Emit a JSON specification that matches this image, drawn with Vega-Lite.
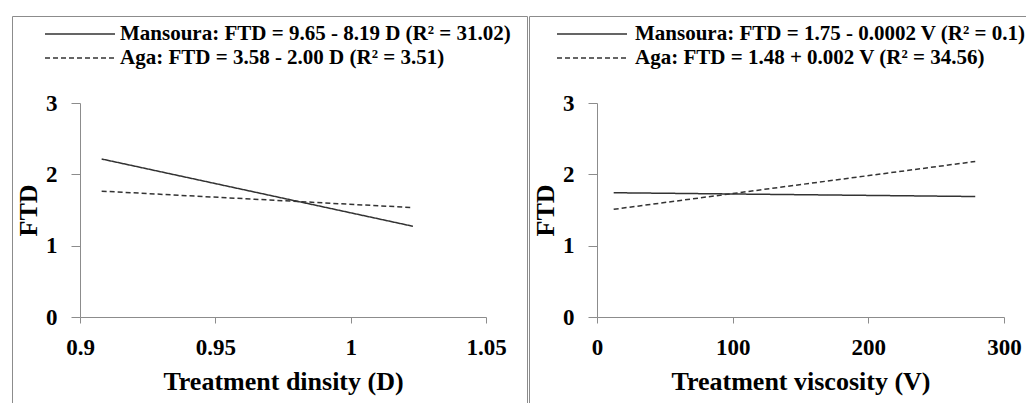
{
  "$schema": "https://vega.github.io/schema/vega-lite/v6.json",
  "padding": {"left": 11, "top": 15, "right": 0, "bottom": 0},
  "background": "white",
  "spacing": 0,
  "config": {
    "view": {"stroke": "#8c8c8c", "strokeWidth": 1},
    "axis": {
      "grid": false,
      "domainColor": "#8c8c8c",
      "tickColor": "#8c8c8c",
      "labelFont": "Liberation Serif",
      "labelFontWeight": "bold",
      "labelColor": "black",
      "titleFont": "Liberation Serif",
      "titleFontWeight": "bold",
      "titleColor": "black"
    },
    "legend": {
      "orient": "none",
      "symbolType": "stroke",
      "symbolSize": 4900,
      "symbolStrokeWidth": 1.5,
      "symbolStrokeColor": "#333333",
      "clipHeight": 18,
      "rowPadding": 3,
      "symbolOffset": 0,
      "padding": 0,
      "direction": "vertical",
      "labelFont": "Liberation Serif",
      "labelFontWeight": "bold",
      "labelFontSize": 21,
      "labelColor": "black"
    }
  },
  "resolve": {
    "scale": {"strokeDash": "independent", "x": "independent", "y": "independent"},
    "legend": {"strokeDash": "independent"}
  },
  "hconcat": [
    {
      "width": 515,
      "height": 388,
      "data": {"values": [
        {"series": "Mansoura: FTD = 9.65 - 8.19 D (R² = 31.02)", "D": 0.908, "FTD": 2.215},
        {"series": "Mansoura: FTD = 9.65 - 8.19 D (R² = 31.02)", "D": 1.023, "FTD": 1.272},
        {"series": "Aga: FTD = 3.58 - 2.00 D (R² = 3.51)", "D": 0.908, "FTD": 1.764},
        {"series": "Aga: FTD = 3.58 - 2.00 D (R² = 3.51)", "D": 1.023, "FTD": 1.534}
      ]},
      "mark": {"type": "line", "color": "#333333", "strokeWidth": 1.5},
      "encoding": {
        "x": {
          "field": "D", "type": "quantitative",
          "scale": {"domain": [0.9, 1.05], "range": [68, 474], "nice": false, "zero": false},
          "axis": {"title": "Treatment dinsity (D)", "values": [0.9, 0.95, 1, 1.05], "labelExpr": "'' + datum.value", "offset": -87, "tickSize": 6, "labelPadding": 13, "titlePadding": 9, "labelFlush": false, "labelFontSize": 23, "titleFontSize": 26}
        },
        "y": {
          "field": "FTD", "type": "quantitative",
          "scale": {"domain": [0, 3], "range": [301, 87], "nice": false},
          "axis": {"title": "FTD", "values": [0, 1, 2, 3], "offset": -68, "tickSize": 9, "labelPadding": 14, "titlePadding": 4, "minExtent": 0, "labelFontSize": 23, "titleFontSize": 26}
        },
        "strokeDash": {
          "field": "series", "type": "nominal",
          "scale": {
            "domain": ["Mansoura: FTD = 9.65 - 8.19 D (R² = 31.02)", "Aga: FTD = 3.58 - 2.00 D (R² = 3.51)"],
            "range": [[1, 0], [5, 3]]
          },
          "legend": {"title": null, "legendX": 32, "legendY": 9, "labelOffset": 4, "labelLimit": 0}
        }
      }
    },
    {
      "width": 500,
      "height": 388,
      "data": {"values": [
        {"series": "Mansoura: FTD = 1.75 - 0.0002 V (R² = 0.1)", "V": 12.3, "FTD": 1.742},
        {"series": "Mansoura: FTD = 1.75 - 0.0002 V (R² = 0.1)", "V": 278.8, "FTD": 1.689},
        {"series": "Aga: FTD = 1.48 + 0.002 V (R² = 34.56)", "V": 12.3, "FTD": 1.51},
        {"series": "Aga: FTD = 1.48 + 0.002 V (R² = 34.56)", "V": 278.8, "FTD": 2.18}
      ]},
      "mark": {"type": "line", "color": "#333333", "strokeWidth": 1.5},
      "encoding": {
        "x": {
          "field": "V", "type": "quantitative",
          "scale": {"domain": [0, 300], "range": [68, 475], "nice": false, "zero": false},
          "axis": {"title": "Treatment viscosity (V)", "values": [0, 100, 200, 300], "offset": -87, "tickSize": 6, "labelPadding": 13, "titlePadding": 9, "labelFlush": false, "labelFontSize": 23, "titleFontSize": 26}
        },
        "y": {
          "field": "FTD", "type": "quantitative",
          "scale": {"domain": [0, 3], "range": [301, 87], "nice": false},
          "axis": {"title": "FTD", "values": [0, 1, 2, 3], "offset": -68, "tickSize": 9, "labelPadding": 14, "titlePadding": 4, "minExtent": 0, "labelFontSize": 23, "titleFontSize": 26}
        },
        "strokeDash": {
          "field": "series", "type": "nominal",
          "scale": {
            "domain": ["Mansoura: FTD = 1.75 - 0.0002 V (R² = 0.1)", "Aga: FTD = 1.48 + 0.002 V (R² = 34.56)"],
            "range": [[1, 0], [5, 3]]
          },
          "legend": {"title": null, "legendX": 27, "legendY": 9, "labelOffset": 7, "labelLimit": 392}
        }
      }
    }
  ]
}
